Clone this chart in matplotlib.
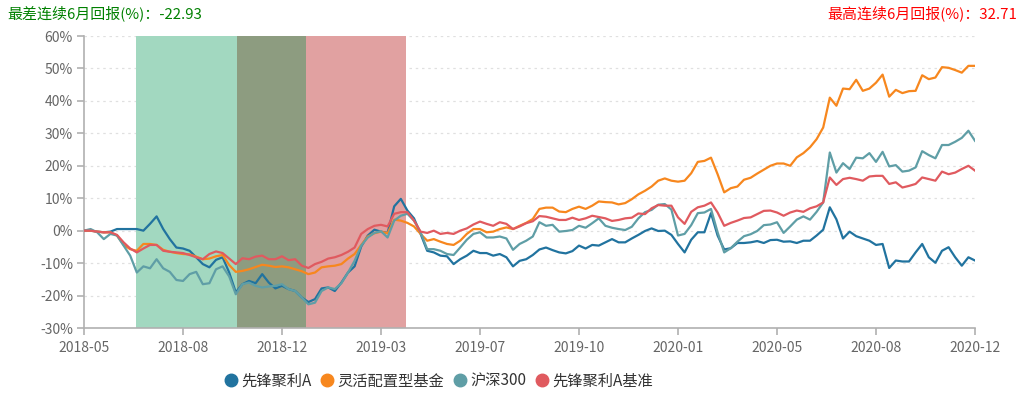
import matplotlib
matplotlib.use("Agg")
import matplotlib.pyplot as plt
from matplotlib.lines import Line2D
import numpy as np

plt.rcParams['font.family'] = ['Noto Sans CJK SC', 'DejaVu Sans']

# ---------------- data ----------------
tick_labels = ['2018-05', '2018-08', '2018-12', '2019-03', '2019-07',
               '2019-10', '2020-01', '2020-05', '2020-08', '2020-12']
points_per_tick = 15

fund = [0, 0, -0.3, -0.5, -0.3, 0.5, 0.5, 0.5, 0.5, 0, 2.1, 4.4, 0.5, -2.6, -5.2, -5.5,
        -6.2, -8.2, -10.3, -11.3, -9, -8.2, -12.9, -19, -16.5, -15.5, -16.2, -13.4, -16,
        -17.8, -17, -18, -18.6, -20.6, -22, -21.1,
        -17.8, -17.5, -18.6, -16, -12.9, -11, -4.9, -1.5, 0.3, -0.3, -0.7, 7.5, 9.8, 6.2,
        3.8, -1, -6.2, -6.7, -7.7, -7.9, -10.3, -8.8, -7.7, -6.2, -6.9, -6.9, -7.7, -7.2,
        -8.2, -11, -9.3, -8.8, -7.5,
        -5.8, -5.2, -6, -6.7, -7, -6.3, -4.6, -5.5, -4.4, -4.6, -3.6, -2.6, -3.6, -3.6,
        -2.4, -1.3, -0.1, 0.7, -0.1,
        0, -1.3, -4.1, -6.7, -2.8, -0.5, -0.5, 5.4, -1.5, -5.8, -5.4, -3.8, -3.8, -3.6,
        -3.2, -3.8, -2.9, -2.8, -3.4, -3.3, -3.8, -3.1, -3.1, -1.5, 0.3, 7.2, 3.5, -2.4,
        -0.3, -1.7, -2.4, -3.1, -4.4, -4.1, -11.5, -9.2, -9.5, -9.5, -6.7, -4.1, -8.2,
        -9.9, -6.2, -5.1, -8.2, -10.8, -8.2, -9.2]

flexible = [0, 0, -0.3, -0.5, -0.5, -1.5, -4.4, -5.7, -6.2, -4.1, -4.1, -4.4, -5.9, -6.5,
            -6.9, -7.2, -7.3, -8, -8.8, -8.6, -7.9, -7.5, -10.6, -12.7, -12.4, -11.9,
            -11.2, -10.5, -10.8, -11.2, -11, -11.3, -11.9, -12.5, -13.4, -12.9,
            -11.3, -11, -10.8, -10.3, -8.6, -7.2, -4.4, -1.8, -0.8, -0.3, -0.8, 3.4, 3.1,
            2.4, 1.3, -1, -3.1, -2.6, -3.4, -4.1, -4.4, -3.1, -1, 0.5, 0.5, -0.5, -0.3,
            0.5, 1, 0.5, 1.5, 2.4, 3.6,
            6.7, 7.1, 7.1, 5.9, 5.7, 6.7, 7.4, 6.7, 7.7, 9, 8.8, 8.7, 8.1, 8.5, 9.7, 11.2,
            12.3, 13.6, 15.4,
            16.1, 15.4, 15.1, 15.4, 17.7, 21.2, 21.5, 22.5, 17.4, 11.8, 13.1, 13.6, 15.7,
            16.3, 17.6, 18.8, 20, 20.7, 20.7, 20, 22.6, 23.9, 25.7, 28.2, 31.8, 41, 38.5,
            43.8, 43.6, 46.5, 43.1, 43.8, 45.6, 48.1, 41.3, 43.4, 42.4, 43, 43.1, 47.9,
            46.7, 47.2, 50.4, 50.2, 49.5, 48.7, 50.8, 50.8]

hs300 = [0, 0.5, -0.5, -2.6, -1, -1.5, -4.6, -7.7, -12.9, -11, -11.6, -8.8, -11.6, -12.7,
         -15.2, -15.5, -13.4, -12.7, -16.5, -16.2, -11.9, -11, -14.1, -19.6, -16.5, -16,
         -17, -17.5, -17.2, -17, -16.5, -18, -18.6, -20.6, -22.7, -22.2,
         -18.6, -17.5, -18, -16.2, -12.9, -9.3, -4.6, -2.1, -0.7, -0.2, -2.1, 3.1, 4.6,
         5.2, 3.1, -0.5, -5.7, -5.7, -6.2, -7.2, -7.5, -5.2, -2.8, -1, -0.5, -2.1, -2.1,
         -1.8, -2.4, -5.9, -4.1, -3.1, -1.8,
         2.6, 1.5, 1.8, -0.3, -0.1, 0.2, 1.5, 0.9, 2.3, 3.8, 1.5, 0.9, 0.5, 0.2, 1.2, 3.8,
         5.7, 6.4, 8,
         8.2, 6.5, -1.5, -1, 1.7, 5.4, 5.6, 6.7, -0.5, -6.7, -5.4, -3.4, -1.7, -1.1, -0.1,
         1.7, 1.9, 2.6, -0.7, 1.3, 3.4, 4.4, 3.4, 5.8, 8.7, 24.1, 17.9, 20.8, 19, 22.5,
         22.3, 23.9, 21.2, 24.3, 19.8, 20.2, 18.2, 18.5, 19.5, 24.5, 23.3, 22.3, 26.4,
         26.4, 27.4, 28.6, 30.8, 27.7]

benchmark = [0, 0, -0.3, -0.5, -0.5, -1.3, -3.6, -5.5, -6.7, -5.5, -4.4, -4.4, -6.2, -6.5,
             -6.7, -6.9, -7.5, -8.2, -8.8, -7.2, -6.4, -6.9, -8.6, -10.3, -8.5, -8.8, -8,
             -7.7, -8.8, -8.8, -7.9, -9.1, -8.8, -10.8, -11.5, -10.3,
             -9.6, -8.6, -8.2, -7.5, -6.5, -5.2, -1, 0.5, 1.5, 1.8, 1.3, 5.2, 5.7, 5.7,
             3.1, -0.3, -0.7, 0, -1, -0.7, -1, 0, 0.7, 1.9, 2.8, 2.1, 1.5, 2.6, 2.1, 0.5,
             1.3, 2.3, 2.9,
             4.5, 4.3, 3.8, 3.3, 3.3, 4, 3.3, 3.8, 4.6, 4.2, 3.8, 3, 3.3, 3.8, 4, 5.3, 5.1,
             6.9, 7.9,
             7.7, 7.7, 4.1, 2.1, 5.8, 7.2, 7.7, 8.7, 5.6, 1.5, 2.4, 3.1, 3.9, 4.1, 5.1, 6.1,
             6.2, 5.6, 4.6, 5.6, 6.2, 5.8, 6.9, 7.5, 8.7, 16.4, 14.1, 15.9, 16.3, 15.9,
             15.4, 16.7, 16.9, 16.9, 14.4, 14.9, 13.3, 13.8, 14.4, 16.4, 15.9, 15.4, 18.2,
             17.4, 17.9, 19, 20, 18.5]

series_names = ['先锋聚利A', '灵活配置型基金', '沪深300', '先锋聚利A基准']
worst_6m = -22.93
best_6m = 32.71
worst_span = (7.9, 33.6)   # index range of worst 6-month window
best_span = (23.2, 48.8)   # index range of best 6-month window

# ---------------- styling ----------------
colors = ['#21739f', '#f7871e', '#5f9ea6', '#e05a5f']
green_c = '#a2d8c0'
red_c = '#e1a1a1'
overlap_c = '#8d9c80'

fig = plt.figure(figsize=(10.2, 3.96), dpi=100)
ax = fig.add_axes([84 / 1020, 1 - 328 / 396, (975 - 84) / 1020, (328 - 36) / 396])

# shaded windows
ov_lo = max(worst_span[0], best_span[0])
ov_hi = min(worst_span[1], best_span[1])
ax.axvspan(worst_span[0], ov_lo, color=green_c, lw=0, zorder=1)
ax.axvspan(ov_lo, ov_hi, color=overlap_c, lw=0, zorder=1)
ax.axvspan(ov_hi, best_span[1], color=red_c, lw=0, zorder=1)

data = [fund, flexible, hs300, benchmark]
for vals, c in zip(data, colors):
    x = np.arange(len(vals))
    ax.plot(x, vals, color=c, lw=1.6, zorder=3, solid_joinstyle='round')

n = len(fund)
ax.set_xlim(0, n - 1)
ax.set_ylim(-30, 60)
ax.set_yticks(np.arange(-30, 61, 10))
ax.set_yticklabels([f'{v}%' for v in range(-30, 61, 10)])
ax.set_xticks(np.arange(0, n, points_per_tick))
ax.set_xticklabels(tick_labels)

for v in range(-20, 61, 10):
    ax.axhline(v, color='#e0e0e0', lw=0.9, ls=(0, (2, 3)), zorder=0.5)

for s in ['top', 'right']:
    ax.spines[s].set_visible(False)
for s in ['left', 'bottom']:
    ax.spines[s].set_color('#b0b0b0')
    ax.spines[s].set_linewidth(1.2)
ax.tick_params(axis='both', colors='#b0b0b0', labelcolor='#666666', labelsize=10,
               length=5, width=1.2)
ax.tick_params(axis='x', pad=4)
ax.tick_params(axis='y', pad=3)

fig.text(7 / 1020, 1 - 13 / 396, f'最差连续6月回报(%)：{worst_6m}', color='#008000',
         fontsize=10.8, va='center', ha='left')
fig.text(1017 / 1020, 1 - 13 / 396, f'最高连续6月回报(%)：{best_6m}', color='#ff0000',
         fontsize=10.8, va='center', ha='right')

handles = [Line2D([], [], marker='o', ls='none', color=c, markersize=9) for c in colors]
fig.legend(handles, series_names, loc='center left',
           bbox_to_anchor=(217 / 1020, 1 - 381 / 396),
           ncol=4, frameon=False, fontsize=11, handlelength=1.0,
           handletextpad=0.2, columnspacing=0.5, borderpad=0.4, borderaxespad=0,
           labelcolor='#333333')

fig.savefig('out.png', dpi=100)
